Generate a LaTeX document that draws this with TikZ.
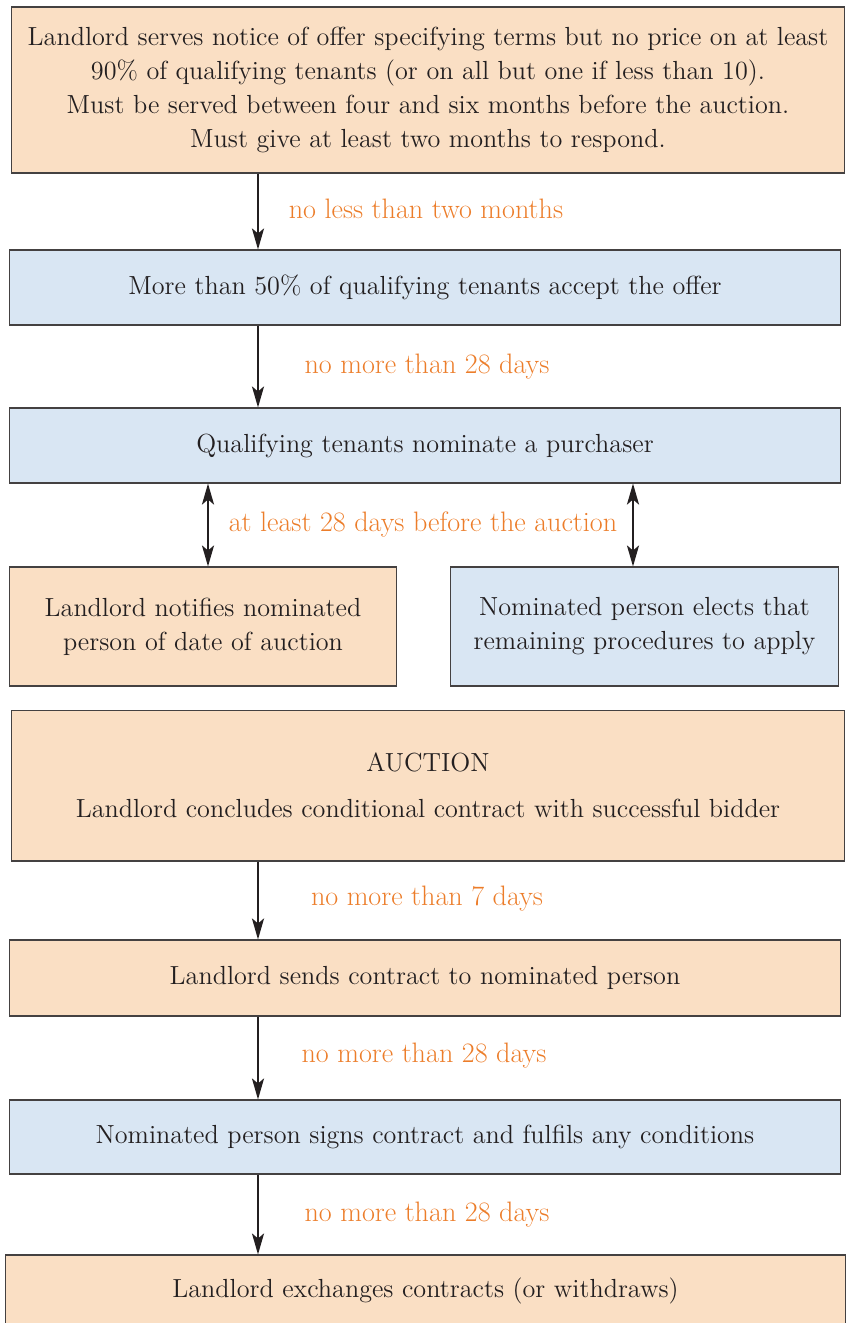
\documentclass[tikz,border=0pt]{standalone}
\usetikzlibrary{arrows.meta}

\definecolor{peach}{HTML}{FADFC4}
\definecolor{paleblue}{HTML}{D9E6F3}
\definecolor{note}{HTML}{EC7D2A}
\definecolor{ink}{HTML}{231F20}

\tikzset{
  stage/.style={draw=ink!85, line width=0.6pt, fill=peach, align=center, text=ink,
    inner sep=0pt, font=\fontsize{14.9}{19.3}\selectfont},
  tenant/.style={stage, fill=paleblue},
  delay/.style={text=note, inner sep=1pt, font=\fontsize{16}{19}\selectfont},
  flow/.style={-{Stealth[length=0.42cm, width=0.24cm, inset=0.1cm]}, line width=1.4pt, draw=ink},
  both/.style={flow, {Stealth[length=0.42cm, width=0.24cm, inset=0.1cm]}-{Stealth[length=0.42cm, width=0.24cm, inset=0.1cm]}}
}

\begin{document}
\begin{tikzpicture}[x=0.02cm, y=-0.02cm]
\useasboundingbox (0,0) rectangle (846,1323);
%% stages of the procedure (1 unit = 1 px of the page)
\node[stage, minimum width=16.68cm, minimum height=3.32cm] (offer) at (428,90)
  {Landlord serves notice of offer specifying terms but no price on at least\\
   90\% of qualifying tenants (or on all but one if less than 10).\\
   Must be served between four and six months before the auction.\\
   Must give at least two months to respond.};
\node[tenant, minimum width=16.64cm, minimum height=1.5cm] (accept) at (425,287.5)
  {More than 50\% of qualifying tenants accept the offer};
\node[tenant, minimum width=16.64cm, minimum height=1.5cm] (nominate) at (425,445.5)
  {Qualifying tenants nominate a purchaser};
\node[stage, minimum width=7.76cm, minimum height=2.38cm] (notify) at (203,626.5)
  {Landlord notifies nominated\\ person of date of auction};
\node[tenant, minimum width=7.78cm, minimum height=2.38cm] (elect) at (644.5,626.5)
  {Nominated person elects that\\ remaining procedures to apply};
\node[stage, minimum width=16.68cm, minimum height=3.02cm] (auction) at (428,785.5)
  {AUCTION\\[0.24cm] Landlord concludes conditional contract with successful bidder};
\node[stage, minimum width=16.64cm, minimum height=1.52cm] (send) at (425,978)
  {Landlord sends contract to nominated person};
\node[tenant, minimum width=16.64cm, minimum height=1.48cm] (sign) at (425,1137)
  {Nominated person signs contract and fulfils any conditions};
\node[stage, minimum width=16.82cm, minimum height=1.44cm] (exchange) at (425.5,1291)
  {Landlord exchanges contracts (or withdraws)};
%
% time limits
\node[delay] (d1) at (426,209) {no less than two months};
\node[delay] (d2) at (427,367) {no more than 28 days};
\node[delay] (d3) at (423,524) {at least 28 days before the auction};
\node[delay] (d4) at (427,899) {no more than 7 days};
\node[delay] (d5) at (424,1056) {no more than 28 days};
\node[delay] (d6) at (427,1215) {no more than 28 days};
%
% arrows
\coordinate (spine) at (258,0);
\coordinate (lhs) at (208,0);
\coordinate (rhs) at (633,0);
\draw[flow] (offer.south -| spine) -- (accept.north -| spine);
\draw[flow] (accept.south -| spine) -- (nominate.north -| spine);
\draw[both] (nominate.south -| lhs) -- (notify.north -| lhs);
\draw[both] (nominate.south -| rhs) -- (elect.north -| rhs);
\draw[flow] (auction.south -| spine) -- (send.north -| spine);
\draw[flow] (send.south -| spine) -- (sign.north -| spine);
\draw[flow] (sign.south -| spine) -- (exchange.north -| spine);
\end{tikzpicture}
\end{document}
